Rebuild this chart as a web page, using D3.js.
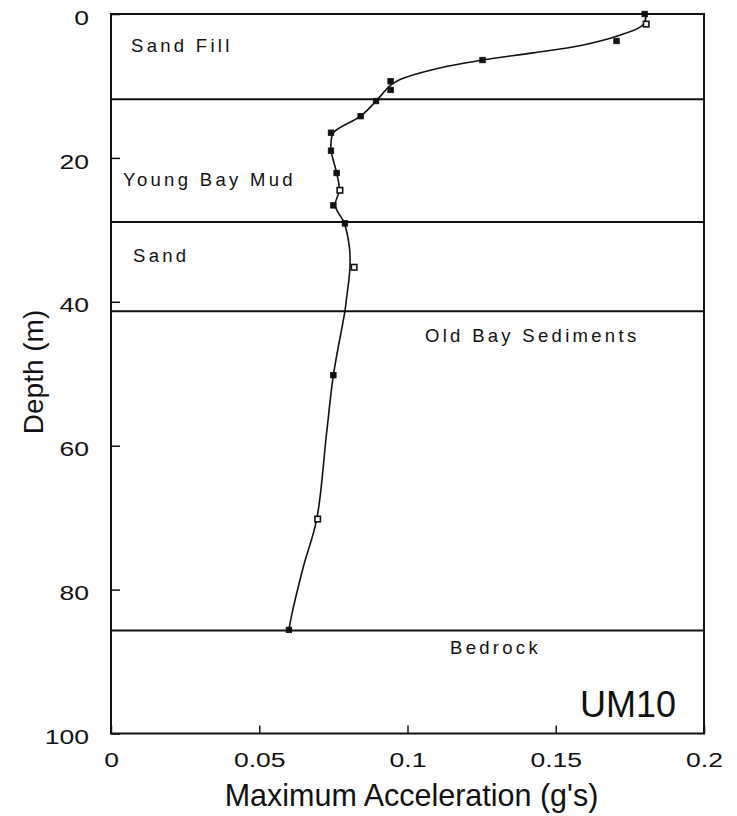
<!DOCTYPE html>
<html>
<head>
<meta charset="utf-8">
<script src="https://cdn.jsdelivr.net/npm/d3@7/dist/d3.min.js"></script>
<style>
  html, body { margin: 0; padding: 0; background: #fff; }
  svg { display: block; }
  text { font-family: "Liberation Sans", Arial, Helvetica, sans-serif; fill: #111; }
</style>
</head>
<body>
<svg id="chart" width="737" height="816"></svg>
<script>
// Depth profile of peak acceleration, site UM10
const depthTicks = [0, 20, 40, 60, 80, 100];
const accelTicks = [0, 0.05, 0.1, 0.15, 0.2];
const accelTickLabels = ["0", "0.05", "0.1", "0.15", "0.2"];

// recorded peak accelerations (g) and their depths (m)
const markerAccel = [0.180, 0.1805, 0.1705, 0.1253, 0.0943, 0.0943, 0.0894, 0.0842, 0.0742, 0.0742, 0.0761, 0.0772, 0.0750, 0.0789, 0.0820, 0.0750, 0.0697, 0.0600];
const markerDepth = [0.0, 1.4, 3.75, 6.4, 9.35, 10.55, 12.1, 14.2, 16.5, 19.0, 22.1, 24.5, 26.6, 29.1, 35.2, 50.2, 70.2, 85.6];
const markerOpen  = [false, true, false, false, false, false, false, false, false, false, false, true, false, false, true, false, true, false];

// smoothed profile through the records
const fitAccel = [0.1804, 0.1795, 0.1705, 0.1593, 0.1424, 0.1253, 0.1087, 0.0975, 0.0943, 0.0894, 0.0842, 0.0750, 0.0742, 0.0742, 0.0761, 0.0770, 0.0756, 0.0787, 0.0804, 0.0806, 0.0793, 0.0789, 0.0750, 0.0727, 0.0694, 0.0649, 0.0607, 0.0600];
const fitDepth = [0, 1.5, 3.1, 4.3, 5.4, 6.4, 7.7, 9.1, 9.9, 12.1, 14.2, 16.5, 18.0, 19.0, 22.1, 24.5, 26.6, 29.1, 32.4, 35.2, 40.0, 41.3, 50.2, 58.3, 70.2, 76.8, 84.0, 85.6];

// soil layer boundaries (m) and layer names
const layerBounds = [11.85, 28.9, 41.3, 85.7];
const layerNames = ["Sand Fill", "Young Bay Mud", "Sand", "Old Bay Sediments", "Bedrock"];
const siteName = "UM10";

const svg = d3.select("#chart");
const plotLeft = 111, plotRight = 704, plotTop = 14, plotBottom = 733.5;

const x = d3.scaleLinear().domain([0, 0.2]).range([plotLeft, plotRight]);
const y = d3.scaleLinear().domain([0, 100]).range([plotTop, plotBottom]);

// stretch text horizontally to imitate the wide lettering
function widen(sel, factor) {
  sel.each(function () {
    const w = this.getComputedTextLength();
    d3.select(this).attr("textLength", w * factor).attr("lengthAdjust", "spacingAndGlyphs");
  });
}

// layer boundaries
svg.append("g").selectAll("line").data(layerBounds).join("line")
  .attr("x1", plotLeft).attr("x2", plotRight)
  .attr("y1", d => y(d)).attr("y2", d => y(d))
  .attr("stroke", "#111").attr("stroke-width", 2);

// axes with inward ticks
const yAxis = svg.append("g").attr("transform", `translate(${plotLeft},0)`)
  .call(d3.axisLeft(y).tickValues(depthTicks).tickFormat(d3.format("d"))
    .tickSizeInner(-9).tickSizeOuter(0).tickPadding(22));
const xAxis = svg.append("g").attr("transform", `translate(0,${plotBottom})`)
  .call(d3.axisBottom(x).tickValues(accelTicks).tickFormat((d, i) => accelTickLabels[i])
    .tickSizeInner(-8).tickSizeOuter(0).tickPadding(20));

[yAxis, xAxis].forEach(a => {
  a.select(".domain").remove();
  a.selectAll(".tick line").attr("stroke", "#111").attr("stroke-width", 1.5);
  a.selectAll(".tick text").attr("font-size", 19.5).attr("fill", "#111")
    .style("font-family", '"Liberation Sans", Arial, sans-serif');
});
yAxis.selectAll(".tick text").attr("dy", "0.52em");
widen(yAxis.selectAll(".tick text"), 1.36);
widen(xAxis.selectAll(".tick text"), 1.36);

// plot frame
svg.append("rect")
  .attr("x", plotLeft).attr("y", plotTop)
  .attr("width", plotRight - plotLeft).attr("height", plotBottom - plotTop)
  .attr("fill", "none").attr("stroke", "#111").attr("stroke-width", 2);

// smoothed profile
const fitPts = fitAccel.map((a, i) => [a, fitDepth[i]]);
svg.append("path")
  .datum(fitPts)
  .attr("d", d3.line().x(d => x(d[0])).y(d => y(d[1])).curve(d3.curveCatmullRom.alpha(0.5)))
  .attr("fill", "none").attr("stroke", "#111").attr("stroke-width", 1.6);

// record markers
const marks = markerAccel.map((a, i) => ({ a, d: markerDepth[i], open: markerOpen[i] }));
const ms = 5.5;
svg.append("g").selectAll("rect").data(marks).join("rect")
  .attr("x", d => x(d.a) - ms / 2).attr("y", d => y(d.d) - ms / 2)
  .attr("width", ms).attr("height", ms)
  .attr("fill", d => d.open ? "#fff" : "#111")
  .attr("stroke", "#111").attr("stroke-width", d => d.open ? 1.6 : 0.8);

// layer names
const labelPlace = [
  { x: 131, y: 51.7 },
  { x: 123, y: 186 },
  { x: 133, y: 262.3 },
  { x: 425, y: 341.7 },
  { x: 450, y: 654 }
];
svg.append("g").selectAll("text").data(layerNames).join("text")
  .attr("x", (d, i) => labelPlace[i].x).attr("y", (d, i) => labelPlace[i].y)
  .attr("font-size", 18.5).attr("letter-spacing", "3.3px")
  .text(d => d);

// site name
svg.append("text")
  .attr("x", 580).attr("y", 717)
  .attr("font-size", 36)
  .text(siteName);

// axis titles
svg.append("text")
  .attr("x", (plotLeft + plotRight) / 2 + 4).attr("y", 806)
  .attr("text-anchor", "middle").attr("font-size", 30.5)
  .text("Maximum Acceleration (g's)");
svg.append("text")
  .attr("transform", "translate(43,372) rotate(-90)")
  .attr("text-anchor", "middle").attr("font-size", 28)
  .text("Depth (m)");
</script>
</body>
</html>
